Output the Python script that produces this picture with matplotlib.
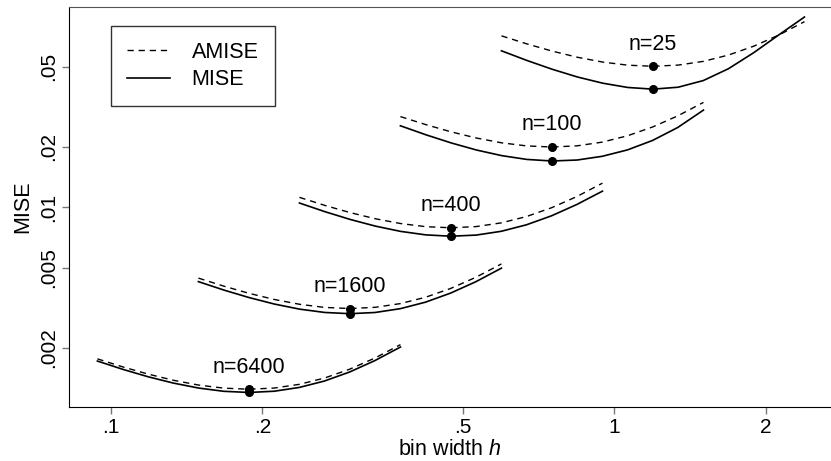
import matplotlib
matplotlib.use("Agg")
import matplotlib.pyplot as plt

plt.rcParams['font.family'] = ['Liberation Sans', 'DejaVu Sans']
plt.rcParams['mathtext.fontset'] = 'custom'
plt.rcParams['mathtext.rm'] = 'Liberation Sans'
plt.rcParams['mathtext.it'] = 'Liberation Sans:italic'

# sample sizes shown on the chart
sample_sizes = [25, 100, 400, 1600, 6400]
curve_labels = ["n=25", "n=100", "n=400", "n=1600", "n=6400"]

# bin widths read along each pair of curves (h*/2 ... 2h*)
h_25 = [0.597, 0.6714, 0.7533, 0.8452, 0.9483, 1.064, 1.194, 1.3395, 1.503, 1.6864, 1.8921, 2.123, 2.3877]
h_100 = [0.376, 0.4229, 0.4745, 0.5324, 0.5974, 0.6703, 0.7521, 0.8439, 0.9468, 1.0624, 1.192, 1.3374, 1.5042]
h_400 = [0.2369, 0.2664, 0.2989, 0.3354, 0.3764, 0.4223, 0.4738, 0.5316, 0.5965, 0.6693, 0.7509, 0.8425, 0.9476]
h_1600 = [0.1492, 0.1678, 0.1883, 0.2113, 0.2371, 0.266, 0.2985, 0.3349, 0.3758, 0.4216, 0.473, 0.5308, 0.5969]
h_6400 = [0.094, 0.1057, 0.1186, 0.1331, 0.1494, 0.1676, 0.188, 0.211, 0.2367, 0.2656, 0.298, 0.3344, 0.3761]

# AMISE (dashed) values
amise_25 = [0.0712, 0.06488, 0.05977, 0.05572, 0.05275, 0.0509, 0.05026, 0.05095, 0.05316, 0.05715, 0.06322, 0.07182, 0.08376]
amise_100 = [0.02826, 0.02575, 0.02372, 0.02211, 0.02093, 0.0202, 0.01995, 0.02022, 0.0211, 0.02268, 0.02509, 0.0285, 0.03324]
amise_400 = [0.011213, 0.010218, 0.009413, 0.008776, 0.008308, 0.008016, 0.007915, 0.008024, 0.008373, 0.009, 0.009957, 0.011311, 0.013192]
amise_1600 = [0.00445, 0.004055, 0.003736, 0.003483, 0.003297, 0.003181, 0.003141, 0.003185, 0.003323, 0.003572, 0.003951, 0.004489, 0.005235]
amise_6400 = [0.001766, 0.001609, 0.001483, 0.001382, 0.001308, 0.001263, 0.001247, 0.001264, 0.001319, 0.001417, 0.001568, 0.001781, 0.002078]

# MISE (solid) values
mise_25 = [0.0600, 0.05368, 0.04856, 0.04446, 0.04143, 0.03944, 0.03869, 0.03955, 0.04268, 0.04888, 0.05868, 0.07197, 0.08833]
mise_100 = [0.02544, 0.02293, 0.0209, 0.01928, 0.01808, 0.01731, 0.017, 0.01719, 0.01794, 0.0193, 0.02151, 0.02495, 0.03044]
mise_400 = [0.010508, 0.009512, 0.008706, 0.008067, 0.007595, 0.007298, 0.007187, 0.00728, 0.007604, 0.00819, 0.009081, 0.01033, 0.012038]
mise_1600 = [0.004274, 0.003878, 0.003559, 0.003306, 0.003119, 0.003003, 0.002961, 0.003002, 0.003136, 0.003378, 0.003747, 0.004268, 0.004987]
mise_6400 = [0.001722, 0.001565, 0.001438, 0.001338, 0.001264, 0.001218, 0.001202, 0.001219, 0.001273, 0.00137, 0.001519, 0.00173, 0.002022]

# tick positions and labels
x_ticks = [0.1, 0.2, 0.5, 1, 2]
x_tick_labels = [".1", ".2", ".5", "1", "2"]
y_ticks = [0.002, 0.005, 0.01, 0.02, 0.05]
y_tick_labels = [".002", ".005", ".01", ".02", ".05"]


def main():
  fig = plt.figure(figsize=(8.31, 4.61), dpi=100)
  ax = fig.add_axes([0.083, 0.117, 0.917, 0.8685])

  all_h = [h_25, h_100, h_400, h_1600, h_6400]
  all_amise = [amise_25, amise_100, amise_400, amise_1600, amise_6400]
  all_mise = [mise_25, mise_100, mise_400, mise_1600, mise_6400]

  dash = (0, (4.5, 3.5))
  for i in range(len(sample_sizes)):
    h = all_h[i]
    amise = all_amise[i]
    mise = all_mise[i]
    ax.plot(h, amise, color='black', lw=1.0, linestyle=dash,
            label='AMISE' if i == 0 else None)
    ax.plot(h, mise, color='black', lw=1.2,
            label='MISE' if i == 0 else None)
    # optimum bin width sits in the middle of each curve
    mid = len(h) // 2
    ax.plot([h[mid], h[mid]], [amise[mid], mise[mid]], 'o', color='black',
            markersize=5.5, linestyle='none')
    ax.annotate(curve_labels[i], (h[mid], amise[mid]), xytext=(0, 16),
                textcoords='offset points', ha='center', va='center', fontsize=15.5)

  ax.set_xscale('log')
  ax.set_yscale('log')
  ax.set_xlim(0.08254, 2.696)
  ax.set_ylim(0.001017, 0.09942)

  ax.set_xticks(x_ticks)
  ax.set_xticklabels(x_tick_labels, fontsize=15)
  ax.set_yticks(y_ticks)
  ax.set_yticklabels(y_tick_labels, fontsize=15, rotation=90, va='center')
  ax.minorticks_off()
  ax.tick_params(axis='both', length=5, width=1, color='#777777', direction='out')
  ax.tick_params(axis='x', pad=3)
  ax.tick_params(axis='y', pad=3)

  ax.spines['right'].set_visible(False)
  ax.spines['top'].set_color('#555555')
  ax.spines['left'].set_color('black')
  ax.spines['bottom'].set_color('black')

  ax.set_xlabel('bin width $h$', fontsize=15.5, labelpad=1)
  ax.set_ylabel('MISE', fontsize=15.5, labelpad=4)

  leg = ax.legend(loc='upper left', bbox_to_anchor=(0.055, 0.953), fontsize=15.5,
                  frameon=True, fancybox=False, handlelength=2.0, handletextpad=1.0,
                  labelspacing=0.3, borderpad=0.75, borderaxespad=0)
  leg.get_frame().set_edgecolor('black')
  leg.get_frame().set_linewidth(1.0)

  fig.savefig('out.png', dpi=100)


if __name__ == '__main__':
  main()
